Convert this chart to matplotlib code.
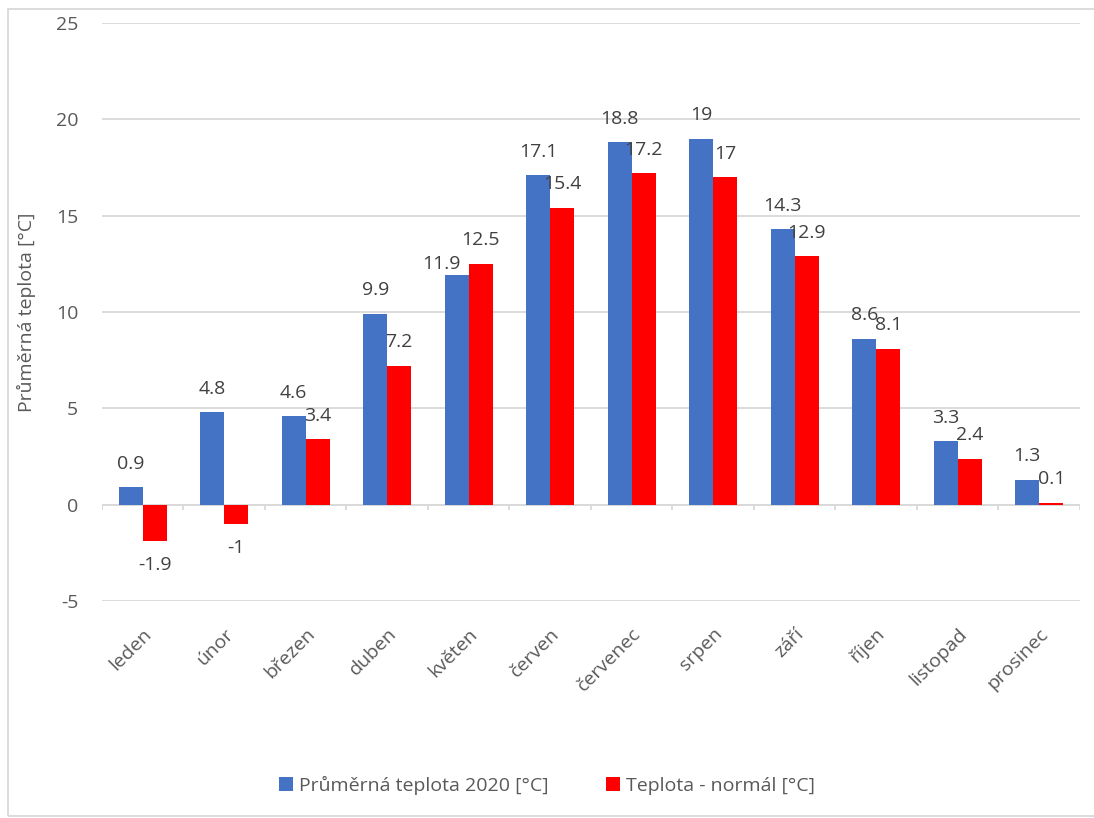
import matplotlib
matplotlib.use("Agg")
from matplotlib import pyplot as plt
from matplotlib.patches import Rectangle
import numpy as np

plt.rcParams['font.family'] = ['Open Sans', 'DejaVu Sans']
plt.rcParams['axes.unicode_minus'] = False

months = ['leden', 'únor', 'březen', 'duben', 'květen', 'červen',
          'červenec', 'srpen', 'září', 'říjen', 'listopad', 'prosinec']
temp_2020 = [0.9, 4.8, 4.6, 9.9, 11.9, 17.1, 18.8, 19, 14.3, 8.6, 3.3, 1.3]
temp_normal = [-1.9, -1, 3.4, 7.2, 12.5, 15.4, 17.2, 17, 12.9, 8.1, 2.4, 0.1]
series_names = ['Průměrná teplota 2020 [°C]', 'Teplota - normál [°C]']

blue = '#4472C4'
red = '#FF0000'
txt = '#595959'
grid = '#D9D9D9'
fs = 14

fig = plt.figure(figsize=(10.94, 8.18), dpi=100)
ax = fig.add_axes([0.0932, 0.265, 0.894, 0.707])

x = np.arange(len(months))
w = 0.295

b1 = ax.bar(x - w / 2, temp_2020, w, color=blue, label=series_names[0], zorder=3)
b2 = ax.bar(x + w / 2, temp_normal, w, color=red, label=series_names[1], zorder=3)

## value labels ##
for k, (bars, vals) in enumerate(((b1, temp_2020), (b2, temp_normal))):
    for i, (rect, v) in enumerate(zip(bars, vals)):
        cx = rect.get_x() + rect.get_width() / 2
        dx, dy = 0, 17 if v >= 0 else -17
        if k == 0 and i == 4:
            # label pushed down-left to clear the neighbouring label
            dx, dy = -11, 8
        ax.annotate(f'{v:g}', (cx, v), xytext=(dx, dy), textcoords='offset points',
                    ha='center', va='center', fontsize=fs, color='#404040')

ax.set_xlim(-0.5, len(months) - 0.5)
ax.set_ylim(-5, 25)
ax.set_yticks(range(-5, 26, 5))
ax.yaxis.grid(True, color=grid, linewidth=1.3, zorder=0)
for s in ax.spines.values():
    s.set_visible(False)

# zero axis with category tick marks
ax.axhline(0, color=grid, linewidth=1.3, zorder=2)
ax.vlines(np.arange(-0.5, len(months)), -0.25, 0, color=grid, linewidth=1.3, zorder=2)

ax.set_xticks(x)
ax.set_xticklabels(months, rotation=45, ha='right', rotation_mode='anchor',
                   fontsize=fs, color=txt)
ax.tick_params(axis='x', length=0, pad=17)
ax.tick_params(axis='y', length=0, pad=17, labelsize=fs, labelcolor=txt)
ax.set_ylabel('Průměrná teplota [°C]', fontsize=fs, color=txt, labelpad=14)

fig.legend(handles=[b1, b2], loc='center', bbox_to_anchor=(0.5, 0.04), ncol=2,
           frameon=False, fontsize=fs, labelcolor=txt, handlelength=0.7,
           handleheight=0.7, handletextpad=0.3, columnspacing=3)

# chart border
fig.patches.append(Rectangle((0.0075, 0.002), 1.2, 0.987, transform=fig.transFigure,
                             fill=False, edgecolor=grid, linewidth=1.3))

fig.savefig('out.png', dpi=100)
